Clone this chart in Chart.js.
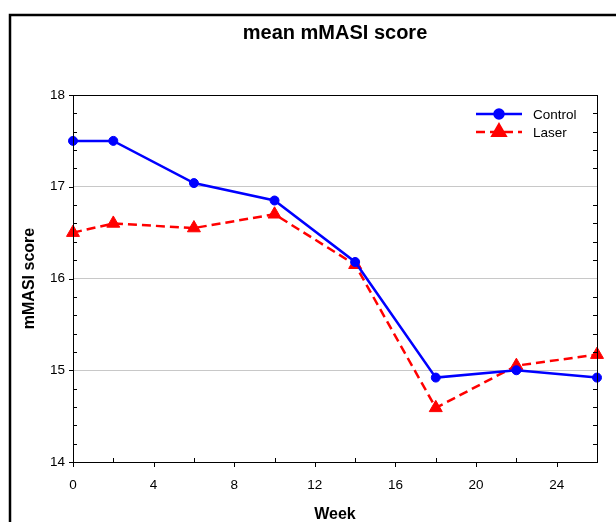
<!DOCTYPE html>
<html>
<head>
<meta charset="utf-8">
<script src="https://cdn.jsdelivr.net/npm/chart.js@4/dist/chart.umd.min.js"></script>
<style>
  html, body { margin: 0; padding: 0; background: #fff; }
  #wrap { width: 616px; height: 522px; }
</style>
</head>
<body>
<div id="wrap"><canvas id="chart" width="616" height="522"></canvas></div>
<script>
// data
var weeks = [0, 2, 6, 10, 14, 18, 22, 26];
var controlScores = [17.5, 17.5, 17.04, 16.85, 16.18, 14.92, 15.0, 14.92];
var laserScores = [16.5, 16.6, 16.55, 16.7, 16.15, 14.59, 15.05, 15.17];
var seriesNames = ['Control', 'Laser'];
var xTicks = [0, 4, 8, 12, 16, 20, 24];
var yTicks = [14, 15, 16, 17, 18];

var FONT = 'Arial, "Liberation Sans", sans-serif';

function toPoints(xs, ys) {
    return xs.map(function (x, i) { return { x: x, y: ys[i] }; });
}

// frame round the whole figure, ticks, box round plot, and the legend
var decor = {
    id: 'decor',
    afterDraw: function (chart) {
        var ctx = chart.ctx, a = chart.chartArea;
        var xs = chart.scales.x, ys = chart.scales.y;
        ctx.save();
        ctx.strokeStyle = '#000';

        // figure frame
        ctx.lineWidth = 2.5;
        ctx.strokeRect(10, 15, 640, 560);

        // plot box
        ctx.lineWidth = 1;
        ctx.strokeRect(Math.round(a.left) + 0.5, Math.round(a.top) + 0.5,
            Math.round(a.right - a.left), Math.round(a.bottom - a.top));

        ctx.beginPath();
        // y: minor ticks inward on both sides, major ticks outward on the left
        for (var i = 0; i <= 20; i++) {
            var v = ys.min + i * 0.2;
            var py = Math.round(ys.getPixelForValue(v)) + 0.5;
            if (i % 5 === 0) {
                ctx.moveTo(a.left, py); ctx.lineTo(a.left - 4, py);
            } else {
                ctx.moveTo(a.left, py); ctx.lineTo(a.left + 4, py);
                ctx.moveTo(a.right, py); ctx.lineTo(a.right - 4, py);
            }
        }
        // x: major ticks outward, minor ticks inward
        for (var w = xs.min; w <= xs.max; w += 2) {
            var px = Math.round(xs.getPixelForValue(w)) + 0.5;
            if (w % 4 === 0) {
                ctx.moveTo(px, a.bottom); ctx.lineTo(px, a.bottom + 5);
            } else {
                ctx.moveTo(px, a.bottom); ctx.lineTo(px, a.bottom - 4);
            }
        }
        ctx.stroke();

        // legend
        var rows = [{ ds: chart.data.datasets[0], y: 114 }, { ds: chart.data.datasets[1], y: 132 }];
        rows.forEach(function (r) {
            var ds = r.ds;
            ctx.strokeStyle = ds.borderColor;
            ctx.fillStyle = ds.borderColor;
            ctx.lineWidth = ds.borderWidth;
            ctx.setLineDash(ds.borderDash || []);
            ctx.beginPath();
            ctx.moveTo(476, r.y); ctx.lineTo(522, r.y);
            ctx.stroke();
            ctx.setLineDash([]);
            Chart.helpers.drawPoint(ctx, {
                pointStyle: ds.pointStyle, radius: ds.pointRadius, borderWidth: 1, rotation: 0
            }, 499, r.y);
            ctx.fillStyle = '#000';
            ctx.font = '13.5px ' + FONT;
            ctx.textBaseline = 'middle';
            ctx.textAlign = 'left';
            ctx.fillText(ds.label, 533, r.y + 1);
        });
        ctx.restore();
    }
};

new Chart(document.getElementById('chart'), {
    type: 'line',
    data: {
        datasets: [
            {
                label: seriesNames[0],
                data: toPoints(weeks, controlScores),
                borderColor: '#0000ff',
                backgroundColor: '#0000ff',
                borderWidth: 2.5,
                pointStyle: 'circle',
                pointRadius: 4.5,
                pointBorderWidth: 1,
                tension: 0
            },
            {
                label: seriesNames[1],
                data: toPoints(weeks, laserScores),
                borderColor: '#ff0000',
                backgroundColor: '#ff0000',
                borderWidth: 2.5,
                borderDash: [9, 5],
                pointStyle: 'triangle',
                pointRadius: 7.5,
                pointBorderWidth: 1,
                tension: 0
            }
        ]
    },
    options: {
        responsive: false,
        animation: false,
        clip: false,
        layout: { padding: { left: 10, right: 19, top: 0, bottom: 0 } },
        plugins: {
            legend: { display: false },
            tooltip: { enabled: false },
            title: {
                display: true,
                fullSize: false,
                text: 'mean mMASI score',
                color: '#000',
                font: { family: FONT, size: 20, weight: 'bold' },
                padding: { top: 21, bottom: 50 }
            }
        },
        scales: {
            x: {
                type: 'linear',
                min: 0,
                max: 26,
                afterBuildTicks: function (s) { s.ticks = xTicks.map(function (v) { return { value: v }; }); },
                afterFit: function (s) { s.height = 60; },
                ticks: { color: '#000', font: { family: FONT, size: 13.5 }, padding: 7, maxRotation: 0 },
                grid: { display: false },
                border: { display: false },
                title: {
                    display: true, text: 'Week', color: '#000',
                    font: { family: FONT, size: 16, weight: 'bold' },
                    padding: { top: 0, bottom: -2 }
                }
            },
            y: {
                min: 14,
                max: 18,
                afterBuildTicks: function (s) { s.ticks = yTicks.map(function (v) { return { value: v }; }); },
                afterFit: function (s) { s.width = 63; },
                ticks: { color: '#000', font: { family: FONT, size: 13.5 }, padding: 8 },
                grid: {
                    drawTicks: false,
                    color: function (c) {
                        var v = c.tick ? c.tick.value : null;
                        return (v === 14 || v === 18) ? 'rgba(0,0,0,0)' : '#c8c8c8';
                    },
                    lineWidth: 1
                },
                border: { display: false },
                title: {
                    display: true, text: 'mMASI score', color: '#000',
                    font: { family: FONT, size: 16, weight: 'bold' },
                    padding: { top: 10, bottom: 0 }
                }
            }
        }
    },
    plugins: [decor]
});
</script>
</body>
</html>
